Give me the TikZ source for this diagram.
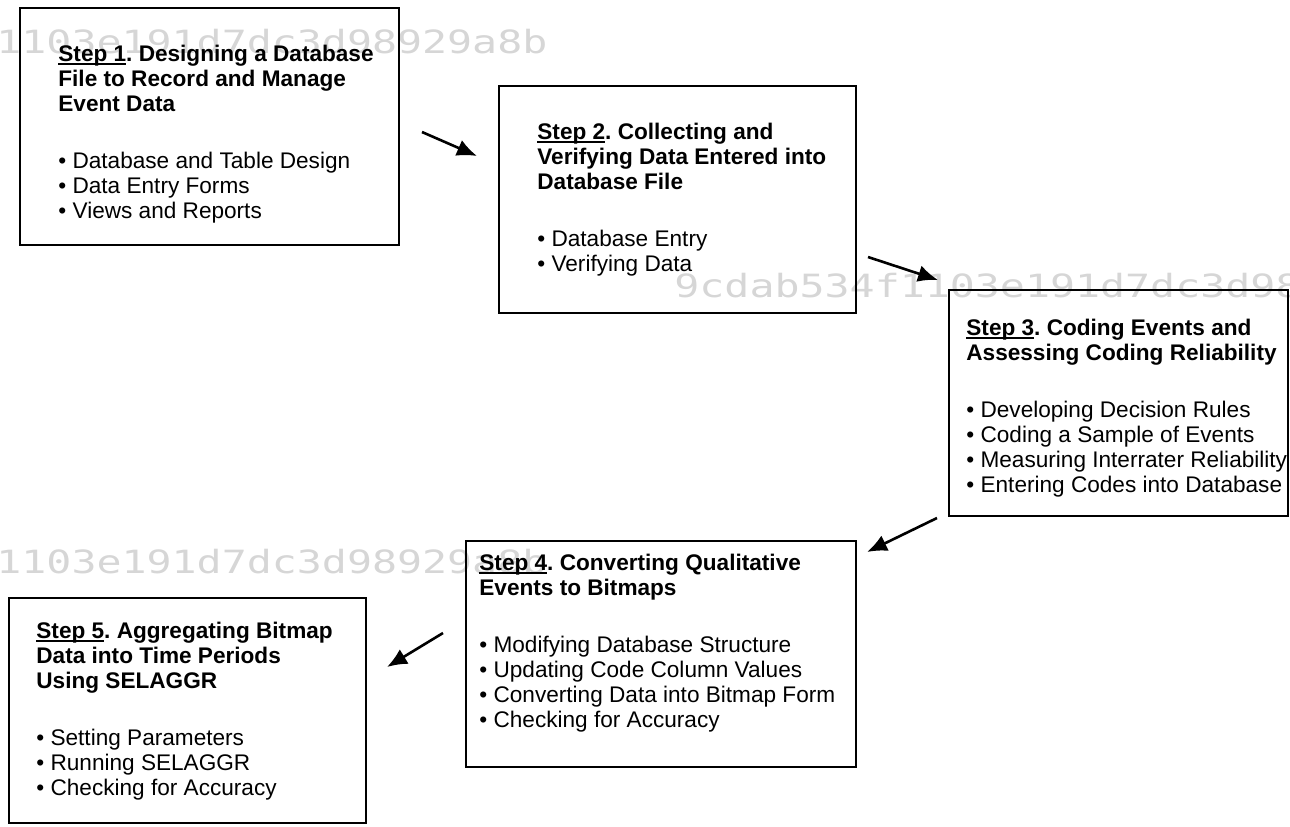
\documentclass[tikz,border=0pt]{standalone}
\usepackage{fontspec}
\setmainfont{Liberation Sans}
\newfontfamily\wmfont{DejaVu Sans Mono}[FakeStretch=1.3]
\usetikzlibrary{arrows.meta}
\frenchspacing
\newcommand\stepul[1]{\leavevmode\setbox0\hbox{#1}\rlap{\rule[-1.7pt]{\wd0}{0.75pt}}\box0}
\newcommand\firstline{\rule{0pt}{9pt}}
\begin{document}
\begin{tikzpicture}[x=0.5pt,y=-0.5pt,
  box/.style={draw, line width=1pt, anchor=north west, inner sep=0pt, outer sep=0pt},
  txt/.style={anchor=north west, inner sep=0pt, align=left, font=\fontsize{11.3}{12.5}\selectfont},
  flow/.style={line width=1.3pt, -{Latex[length=10pt,width=8.5pt]}},
  wm/.style={anchor=base west, inner sep=0pt, text=black!16, font=\wmfont\fontsize{16}{16}\selectfont}
]
\useasboundingbox (0,0) rectangle (1290,826);
% watermarks
\node[wm] (w1) at (-4,53) {1103e191d7dc3d98929a8b};
\node[wm] (w2) at (674,297) {9cdab534f1103e191d7dc3d98929a8b};
\node[wm] (w3) at (-4,573) {1103e191d7dc3d98929a8b};
% boxes
\node[box, minimum width=189.5pt, minimum height=118.5pt] (b1) at (20,8) {};
\node[box, minimum width=178.5pt, minimum height=113.5pt] (b2) at (499,86) {};
\node[box, minimum width=169.5pt, minimum height=113pt] (b3) at (949,290) {};
\node[box, minimum width=195pt, minimum height=113pt] (b4) at (466,541) {};
\node[box, minimum width=178.5pt, minimum height=112.5pt] (b5) at (9,598) {};
% texts
\node[txt] (t1) at (58,43) {\firstline\textbf{\stepul{Step 1}. Designing a Database}\\
  \textbf{File to Record and Manage}\\
  \textbf{Event Data}\\[16pt]
  • Database and Table Design\\
  • Data Entry Forms\\
  • Views and Reports};
\node[txt] (t2) at (537,121) {\firstline\textbf{\stepul{Step 2}. Collecting and}\\
  \textbf{Verifying Data Entered into}\\
  \textbf{Database File}\\[16pt]
  • Database Entry\\
  • Verifying Data};
\node[txt] (t3) at (966,317) {\firstline\textbf{\stepul{Step 3}. Coding Events and}\\
  \textbf{Assessing Coding Reliability}\\[16pt]
  • Developing Decision Rules\\
  • Coding a Sample of Events\\
  • Measuring Interrater Reliability\\
  • Entering Codes into Database};
\node[txt] (t4) at (479,552) {\firstline\textbf{\stepul{Step 4}. Converting Qualitative}\\
  \textbf{Events to Bitmaps}\\[16pt]
  • Modifying Database Structure\\
  • Updating Code Column Values\\
  • Converting Data into Bitmap Form\\
  • Checking for Accuracy};
\node[txt] (t5) at (36,620) {\firstline\textbf{\stepul{Step 5}. Aggregating Bitmap}\\
  \textbf{Data into Time Periods}\\
  \textbf{Using SELAGGR}\\[16pt]
  • Setting Parameters\\
  • Running SELAGGR\\
  • Checking for Accuracy};
% arrow ends
\coordinate (a1s) at (422,132); \coordinate (a1e) at (477,156);
\coordinate (a2s) at (868,257); \coordinate (a2e) at (938,280);
\coordinate (a3s) at (937,518); \coordinate (a3e) at (867,552);
\coordinate (a4s) at (443,633); \coordinate (a4e) at (387,667);
\draw[flow] (a1s) -- (a1e);
\draw[flow] (a2s) -- (a2e);
\draw[flow] (a3s) -- (a3e);
\draw[flow] (a4s) -- (a4e);
\end{tikzpicture}
\end{document}
